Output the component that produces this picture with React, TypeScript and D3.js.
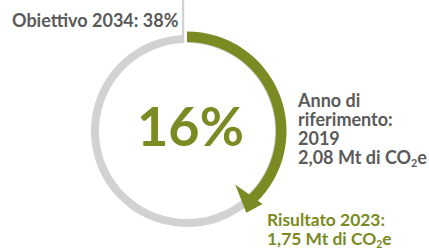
import React from "react";
import * as d3 from "d3";

const centerValue = "16%";
const targetLabel = "Obiettivo 2034: 38%";
const baselineLines = ["Anno di", "riferimento:", "2019"];
const baselineValue = { num: "2,08", unit: "Mt di CO", sub: "2", tail: "e" };
const resultTitle = "Risultato 2023:";
const resultValue = { num: "1,75", unit: "Mt di CO", sub: "2", tail: "e" };
// fraction of the circle covered by the progress arrow (tip)
const progressTip = [0.4];

const GREEN = "#7b8a22";
const GREY_TEXT = "#5a5a5a";
const RING = "#d2d2d2";
const FONT = "Lato, 'Open Sans', sans-serif";

export default function App() {
  const W = 429, H = 250;
  const cx = 187, cy = 131;
  const tipAngle = progressTip[0] * 2 * Math.PI;
  const deg = Math.PI / 180;
  const bodyEnd = tipAngle - 9 * deg;

  const greyArc = d3.arc()({
    innerRadius: 88, outerRadius: 96,
    startAngle: 0, endAngle: 2 * Math.PI - 1.7 * deg,
  } as any) as string;
  const greenArc = d3.arc()({
    innerRadius: 89, outerRadius: 99.5,
    startAngle: 0, endAngle: bodyEnd + 1 * deg,
  } as any) as string;

  const pA = d3.pointRadial(bodyEnd + 3 * deg, 72);
  const pC = d3.pointRadial(bodyEnd - 1 * deg, 105);
  const pB = d3.pointRadial(tipAngle, 101);
  const head = d3.line()([pA, pB, pC]) + "Z";

  const lineTop = d3.pointRadial(-1.7 * deg, 96);

  const valueText = (v: typeof baselineValue, x: number, y: number, fill: string, size: number) => (
    <text x={x} y={y} fill={fill} fontSize={size} fontWeight={700} fontFamily={FONT}>
      {v.num} {v.unit}
      <tspan fontSize={size * 0.6} dy={3}>{v.sub}</tspan>
      <tspan dy={-3}>{v.tail}</tspan>
    </text>
  );

  return (
    <svg width={W} height={H} style={{ position: "absolute", left: 0, top: 0 }}>
      <rect width={W} height={H} fill="#fff" />
      <text x={12} y={27} fill={GREY_TEXT} fontSize={18} fontWeight={700} fontFamily={FONT}>
        {targetLabel}
      </text>
      <g transform={`translate(${cx},${cy})`}>
        <path d={greyArc} fill={RING} />
        <line x1={lineTop[0] - 1.1} x2={lineTop[0] - 1.1} y1={-cy} y2={lineTop[1] + 1}
          stroke={RING} strokeWidth={2.3} />
        <path d={greenArc} fill={GREEN} />
        <path d={head} fill={GREEN} />
        <text x={3.5} y={14.5} textAnchor="middle" fill={GREEN} fontSize={54} fontWeight={700} fontFamily={FONT}>
          {centerValue}
        </text>
      </g>
      {baselineLines.map((t, i) => (
        <text key={t} x={298} y={106.5 + i * 19.2} fill={GREY_TEXT} fontSize={18} fontWeight={700} fontFamily={FONT}>
          {t}
        </text>
      ))}
      {valueText(baselineValue, 298, 164, GREY_TEXT, 18)}
      <text x={267} y={226} fill={GREEN} fontSize={17.4} fontWeight={700} fontFamily={FONT}>
        {resultTitle}
      </text>
      {valueText(resultValue, 267, 245, GREEN, 17.4)}
    </svg>
  );
}
